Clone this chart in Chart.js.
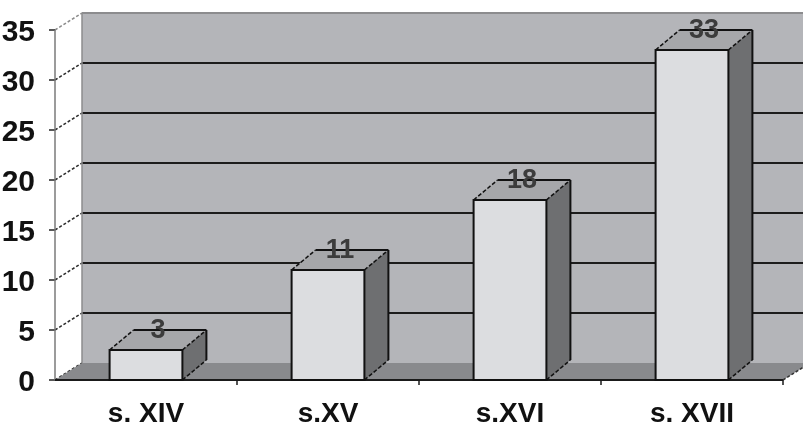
<!DOCTYPE html>
<html><head><meta charset="utf-8">
<script src="https://cdn.jsdelivr.net/npm/chart.js@4/dist/chart.umd.min.js"></script>
<style>html,body{margin:0;padding:0;background:#fff}#wrap{width:803px;height:425px}</style>
</head><body><div id="wrap"><canvas id="c" width="803" height="425"></canvas></div>
<script>
const categories = ['s. XIV', 's.XV', 's.XVI', 's. XVII'];
const values = [3, 11, 18, 33];
const yTicks = [0, 5, 10, 15, 20, 25, 30, 35];

const WALL_DX = 27, WALL_DY = -17, BAR_DX = 24, BAR_DY = -20;

function line(ctx, x1, y1, x2, y2, color, w, dash) {
  ctx.save();
  ctx.strokeStyle = color; ctx.lineWidth = w;
  ctx.setLineDash(dash || []);
  ctx.beginPath(); ctx.moveTo(x1, y1); ctx.lineTo(x2, y2); ctx.stroke();
  ctx.restore();
}
function poly(ctx, pts, fill) {
  ctx.beginPath();
  ctx.moveTo(pts[0][0], pts[0][1]);
  for (let i = 1; i < pts.length; i++) ctx.lineTo(pts[i][0], pts[i][1]);
  ctx.closePath();
  ctx.fillStyle = fill; ctx.fill();
}

const threeD = {
  id: 'threeD',
  beforeDatasetsDraw(chart) {
    const { ctx, chartArea: a, scales: { x, y } } = chart;
    ctx.save();
    const bl = a.left + WALL_DX, br = a.right + WALL_DX;
    // back wall
    poly(ctx, [[bl, a.top + WALL_DY], [br, a.top + WALL_DY], [br, a.bottom + WALL_DY], [bl, a.bottom + WALL_DY]], '#b4b5b9');
    // gridlines on back wall + side wall diagonals
    yTicks.forEach(v => {
      const py = y.getPixelForValue(v);
      if (v > 0 && v < 35) line(ctx, bl, py + WALL_DY, br, py + WALL_DY, '#1c1c1c', 2);
      line(ctx, a.left, py, bl, py + WALL_DY, v === 35 ? '#8a8a8a' : '#2a2a2a', 1.5, [3, 2]);
      line(ctx, a.left - 6, py, a.left, py, '#222', 1.5);
    });
    // wall edges
    line(ctx, bl, a.top + WALL_DY, br, a.top + WALL_DY, '#8c8c8e', 2);
    line(ctx, bl, a.top + WALL_DY, bl, a.bottom + WALL_DY, '#8c8c8e', 1.5);
    // floor
    poly(ctx, [[a.left, a.bottom], [a.right, a.bottom], [br, a.bottom + WALL_DY], [bl, a.bottom + WALL_DY]], '#898a8d');
    line(ctx, a.right, a.bottom, br, a.bottom + WALL_DY, '#333', 1.5, [3, 2]);
    // front axes
    line(ctx, a.left, a.top, a.left, a.bottom, '#7a7a7a', 1.5);
    line(ctx, a.left, a.bottom, a.right, a.bottom, '#1a1a1a', 2);
    const n = categories.length, cw = (a.right - a.left) / n;
    for (let i = 1; i <= n; i++) {
      const px = a.left + i * cw;
      line(ctx, px, a.bottom, px, a.bottom + 5, '#1a1a1a', 1.5);
    }
    ctx.restore();
  },
  afterDatasetsDraw(chart) {
    const { ctx } = chart;
    const meta = chart.getDatasetMeta(0);
    ctx.save();
    meta.data.forEach((bar, i) => {
      const p = bar.getProps(['x', 'y', 'base', 'width'], true);
      const l = p.x - p.width / 2, r = p.x + p.width / 2, t = p.y, b = p.base;
      poly(ctx, [[l, t], [r, t], [r + BAR_DX, t + BAR_DY], [l + BAR_DX, t + BAR_DY]], '#a6a7aa');
      poly(ctx, [[r, t], [r + BAR_DX, t + BAR_DY], [r + BAR_DX, b + BAR_DY], [r, b]], '#6e6f71');
      line(ctx, l + BAR_DX, t + BAR_DY, r + BAR_DX, t + BAR_DY, '#111', 2);
      line(ctx, r + BAR_DX, t + BAR_DY, r + BAR_DX, b + BAR_DY, '#111', 2);
      line(ctx, l, t, l + BAR_DX, t + BAR_DY, '#111', 1.5, [4, 2]);
      line(ctx, r, t, r + BAR_DX, t + BAR_DY, '#111', 1.5, [4, 2]);
      line(ctx, r, b, r + BAR_DX, b + BAR_DY, '#111', 1.5, [4, 2]);
      // front outline
      ctx.strokeStyle = '#111'; ctx.lineWidth = 2;
      ctx.strokeRect(l, t, r - l, b - t);
      // value label
      ctx.fillStyle = '#3c3c3c';
      ctx.font = 'bold 27px "Liberation Sans", Arial, sans-serif';
      ctx.textAlign = 'center'; ctx.textBaseline = 'middle';
      ctx.fillText(String(values[i]), p.x + BAR_DX / 2, t + BAR_DY + 1);
    });
    ctx.restore();
  }
};

new Chart(document.getElementById('c'), {
  type: 'bar',
  data: {
    labels: categories,
    datasets: [{
      data: values,
      backgroundColor: '#dcdde0',
      borderWidth: 0,
      categoryPercentage: 1,
      barPercentage: 0.4
    }]
  },
  options: {
    responsive: false,
    animation: false,
    devicePixelRatio: 1,
    layout: { padding: { left: 0, right: 20, top: 30, bottom: 0 } },
    plugins: { legend: { display: false }, tooltip: { enabled: false } },
    scales: {
      x: {
        grid: { display: false }, border: { display: false },
        ticks: { color: '#111', padding: 9, font: { family: '"Liberation Sans", Arial, sans-serif', size: 28, weight: 'bold' } },
        afterFit: s => { s.height = 45; }
      },
      y: {
        min: 0, max: 35,
        grid: { display: false }, border: { display: false },
        afterBuildTicks: s => { s.ticks = yTicks.map(v => ({ value: v })); },
        ticks: { color: '#111', padding: 12, labelOffset: 3, font: { family: '"Liberation Sans", Arial, sans-serif', size: 30, weight: 'bold' } },
        afterFit: s => { s.width = 55; }
      }
    }
  },
  plugins: [threeD]
});
</script>
</body></html>
